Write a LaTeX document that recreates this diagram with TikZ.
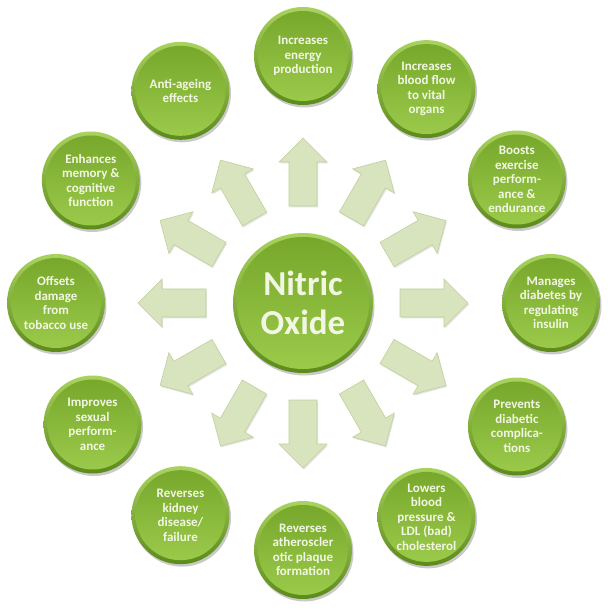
\documentclass[tikz,border=0pt]{standalone}
\usepackage{fontspec}
\setmainfont{Carlito}
\usetikzlibrary{shadows}
\definecolor{txt}{HTML}{F2F7E4}
\definecolor{rimL}{HTML}{A9D35E}
\definecolor{rimD}{HTML}{5C8A1B}
\definecolor{faceL}{HTML}{9CCB4C}
\definecolor{faceD}{HTML}{76A62A}
\definecolor{arrF}{HTML}{D7E4BD}
\definecolor{arrE}{HTML}{BFD19A}
\begin{document}
\begin{tikzpicture}[x=1pt,y=1pt,
  bubble/.style={circle, minimum size=#1, inner sep=0pt, text=txt, align=center,
    top color=rimL, bottom color=rimD,
    drop shadow={shadow xshift=1.5pt, shadow yshift=-2.5pt, opacity=0.3, fill=black!70},
    path picture={\shade[top color=faceD, bottom color=faceL]
      (path picture bounding box.center) circle ({#1/2-4pt});}},
  small/.style={bubble=98pt, font=\bfseries\fontsize{13}{14.5}\selectfont},
  blockarrow/.style={fill=arrF, draw=arrE, line width=0.6pt, line join=miter,
    drop shadow={shadow xshift=1pt, shadow yshift=-1.5pt, opacity=0.18, fill=black!60}}]
\useasboundingbox (-303,-307) rectangle (307,303);

\node[bubble=140pt, font=\bfseries\fontsize{35}{39}\selectfont] (c) at (0,0) {Nitric\\Oxide};

\node[small] (b1)  at (90:247)  {Increases\\energy\\production};
\node[small] (b2)  at (60:247)  {Increases\\blood flow\\to vital\\organs};
\node[small] (b3)  at (30:247)  {Boosts\\exercise\\perform-\\ance \&\\endurance};
\node[small] (b4)  at (0:248)   {Manages\\diabetes by\\regulating\\insulin};
\node[small] (b5)  at (-30:247) {Prevents\\diabetic\\complica-\\tions};
\node[small] (b6)  at (-60:247) {Lowers\\blood\\pressure \&\\LDL (bad)\\cholesterol};
\node[small] (b7)  at (-90:247) {Reverses\\atheroscler\\otic plaque\\formation};
\node[small] (b8)  at (-120:245) {Reverses\\kidney\\disease/\\failure};
\node[small] (b9)  at (-150:243) {Improves\\sexual\\perform-\\ance};
\node[small] (b10) at (180:247) {Offsets\\damage\\from\\tobacco use};
\node[small] (b11) at (150:245) {Enhances\\memory \&\\cognitive\\function};
\node[small] (b12) at (120:245) {Anti-ageing\\effects};

\foreach \a in {0,30,...,330}{
  \draw[blockarrow, shift={(c.center)}, rotate=\a]
    (97,-14) -- (141,-14) -- (141,-24) -- (165,0) -- (141,24) -- (141,14) -- (97,14) -- cycle;
}
\end{tikzpicture}
\end{document}
